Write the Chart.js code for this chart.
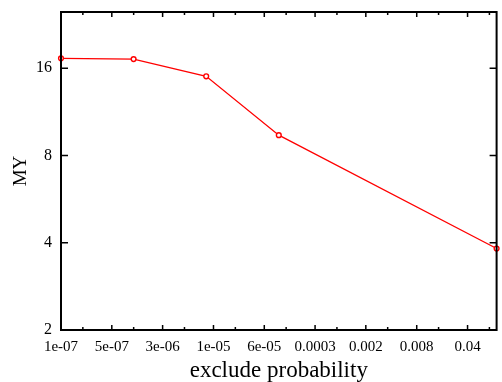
<!DOCTYPE html>
<html>
<head>
<meta charset="utf-8">
<script src="https://cdn.jsdelivr.net/npm/chart.js@4/dist/chart.umd.min.js"></script>
<style>
  html, body { margin: 0; padding: 0; background: #fff; }
  #wrap { width: 502px; height: 382px; }
</style>
</head>
<body>
<div id="wrap"><canvas id="myChart" width="502" height="382"></canvas></div>
<script>
// data
const probs = [1e-7, 1e-6, 1e-5, 1e-4, 0.1];
const myValues = [17.3, 17.2, 15.0, 9.4, 3.82];

// x ticks (log spaced by 0.7 decades)
const xTickValues = [1e-7, 5.01e-7, 2.51e-6, 1.26e-5, 6.31e-5, 3.16e-4, 1.58e-3, 7.94e-3, 3.98e-2];
const xTickLabels = ['1e-07', '5e-07', '3e-06', '1e-05', '6e-05', '0.0003', '0.002', '0.008', '0.04'];
const yTickValues = [2, 4, 8, 16];

Chart.defaults.font.family = '"Liberation Serif", "DejaVu Serif", serif';
Chart.defaults.color = '#000';

// frame + inward ticks on all four sides
const frameTicks = {
  id: 'frameTicks',
  afterDraw(chart) {
    const { ctx, chartArea: a, scales } = chart;
    ctx.save();
    ctx.strokeStyle = '#000';
    ctx.lineWidth = 1.5;
    xTickValues.forEach(v => {
      const px = scales.x.getPixelForValue(v);
      const mx = scales.x.getPixelForValue(v * 2);
      ctx.beginPath();
      ctx.moveTo(px, a.bottom); ctx.lineTo(px, a.bottom - 5);
      ctx.moveTo(px, a.top); ctx.lineTo(px, a.top + 5);
      if (mx < a.right) {
        ctx.moveTo(mx, a.bottom); ctx.lineTo(mx, a.bottom - 3);
        ctx.moveTo(mx, a.top); ctx.lineTo(mx, a.top + 3);
      }
      ctx.stroke();
    });
    yTickValues.forEach(v => {
      const py = scales.y.getPixelForValue(v);
      ctx.beginPath();
      ctx.moveTo(a.left, py); ctx.lineTo(a.left + 7, py);
      ctx.moveTo(a.right, py); ctx.lineTo(a.right - 7, py);
      ctx.stroke();
    });
    ctx.lineWidth = 2;
    ctx.strokeRect(a.left, a.top, a.right - a.left, a.bottom - a.top);
    ctx.restore();
  }
};

new Chart(document.getElementById('myChart'), {
  type: 'line',
  data: {
    datasets: [{
      data: probs.map((p, i) => ({ x: p, y: myValues[i] })),
      borderColor: '#ff0000',
      borderWidth: 1.3,
      pointRadius: 2.4,
      pointBorderWidth: 1.4,
      pointBackgroundColor: '#fff',
      pointBorderColor: '#ff0000',
      tension: 0,
      clip: false
    }]
  },
  options: {
    responsive: false,
    animation: false,
    layout: { padding: { left: 0, right: 3, top: 12, bottom: 0 } },
    plugins: { legend: { display: false }, tooltip: { enabled: false } },
    scales: {
      x: {
        type: 'logarithmic',
        min: 1e-7,
        max: 0.1,
        grid: { display: false },
        border: { display: false },
        afterBuildTicks: s => { s.ticks = xTickValues.map(v => ({ value: v })); },
        afterFit: s => { s.height = 52; },
        ticks: {
          autoSkip: false,
          maxRotation: 0,
          padding: 0,
          font: { size: 15 },
          callback: (v, i) => xTickLabels[i]
        },
        title: { display: true, text: 'exclude probability', font: { size: 23 }, padding: { top: 2, bottom: -3 } }
      },
      y: {
        type: 'logarithmic',
        min: 2,
        max: 25,
        grid: { display: false },
        border: { display: false },
        afterBuildTicks: s => { s.ticks = yTickValues.map(v => ({ value: v })); },
        afterFit: s => { s.width = 61; s.paddingTop = 0; },
        ticks: {
          padding: 1,
          font: { size: 16 },
          callback: v => String(v)
        },
        title: { display: true, text: 'MY', font: { size: 19 }, padding: { top: 10, bottom: 0 } }
      }
    }
  },
  plugins: [frameTicks]
});
</script>
</body>
</html>
